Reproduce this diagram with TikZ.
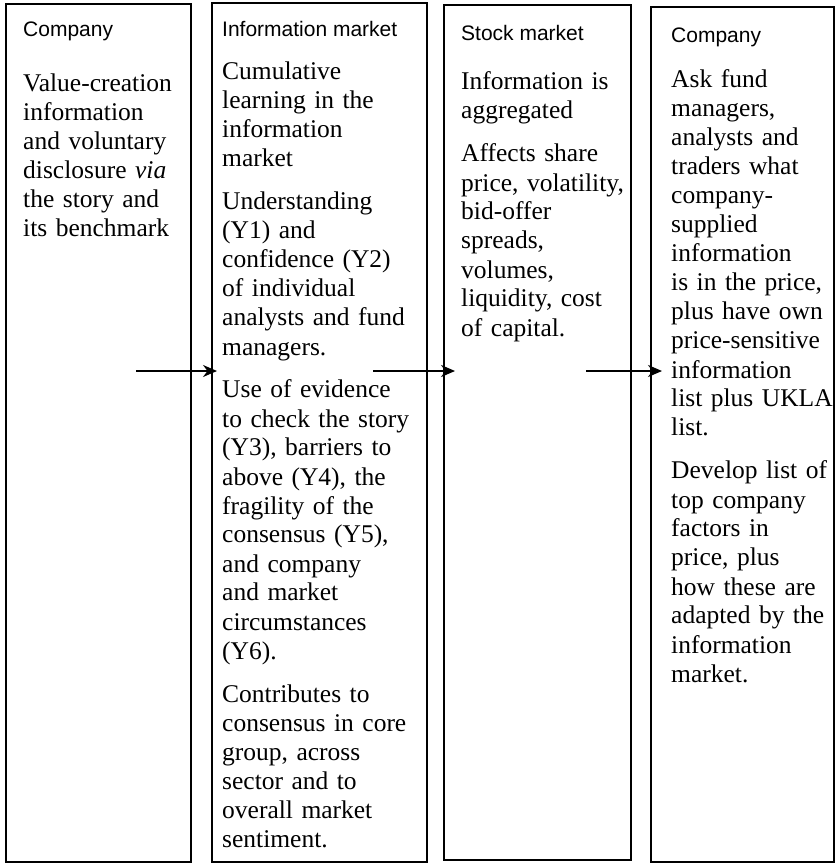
\documentclass[tikz,border=0pt]{standalone}
\usepackage{fontspec}
\setmainfont{Liberation Serif}
\setsansfont{Liberation Sans}
\usetikzlibrary{arrows.meta}

\tikzset{
  panel/.style={draw,line width=2pt,inner sep=0pt},
  head/.style={anchor=base west,inner sep=0pt,font=\sffamily\fontsize{21}{25}\selectfont},
  body/.style={anchor=base west,inner sep=0pt,align=left,text width=300pt,font=\fontsize{25.5}{29}\selectfont},
  flow/.style={-{Stealth[length=14pt,width=12pt]},line width=2pt}
}

\begin{document}
\begin{tikzpicture}[x=1pt,y=-1pt]
    \useasboundingbox (0,0) rectangle (835,864);
    \node[panel,minimum width=185pt,minimum height=858pt] (company) at (98.5,433) {};
    \node[panel,minimum width=215pt,minimum height=859pt] (infomarket) at (319.5,432.5) {};
    \node[panel,minimum width=187pt,minimum height=855pt] (stockmarket) at (537.5,432.5) {};
    \node[panel,minimum width=183pt,minimum height=855pt] (companyback) at (742.5,434.5) {};

    \node[head] (h1) at (23,37) {Company};
    \node[head] (h2) at (222,37) {Information market};
    \node[head] (h3) at (461,41) {Stock market};
    \node[head] (h4) at (671,43) {Company};

    \node[body] (t1) at (23,92) {Value-creation\\ information\\ and voluntary\\ disclosure \textit{via}\\ the story and\\ its benchmark};
    \node[body] (t2) at (222,80) {Cumulative\\ learning in the\\ information\\ market\\[14pt]
      Understanding\\ (Y1) and\\ confidence (Y2)\\ of individual\\ analysts and fund\\ managers.\\[14pt]
      Use of evidence\\ to check the story\\ (Y3), barriers to\\ above (Y4), the\\ fragility of the\\ consensus (Y5),\\ and company\\ and market\\ circumstances\\ (Y6).\\[14pt]
      Contributes to\\ consensus in core\\ group, across\\ sector and to\\ overall market\\ sentiment.};
    \node[body] (t3) at (461,90) {Information is\\ aggregated\\[14pt]
      Affects share\\ price, volatility,\\ bid-offer\\ spreads,\\ volumes,\\ liquidity, cost\\ of capital.};
    \node[body] (t4) at (671,88) {Ask fund\\ managers,\\ analysts and\\ traders what\\ company-\\ supplied\\ information\\ is in the price,\\ plus have own\\ price-sensitive\\ information\\ list plus UKLA\\ list.\\[14pt]
      Develop list of\\ top company\\ factors in\\ price, plus\\ how these are\\ adapted by the\\ information\\ market.};

    \coordinate (a1) at (136,371);
    \coordinate (b1) at (217,371);
    \coordinate (a2) at (373,371);
    \coordinate (b2) at (455,371);
    \coordinate (a3) at (586,371);
    \coordinate (b3) at (662,371);
    \draw[flow] (a1) -- (b1);
    \draw[flow] (a2) -- (b2);
    \draw[flow] (a3) -- (b3);
\end{tikzpicture}
\end{document}
